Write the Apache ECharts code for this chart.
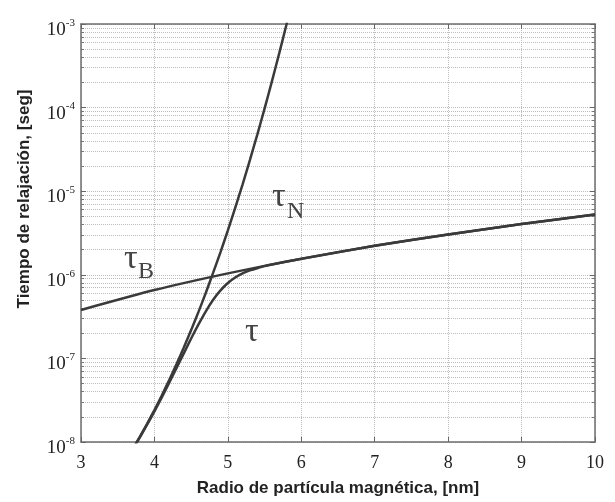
<!DOCTYPE html>
<html>
<head>
<meta charset="utf-8">
<script src="https://cdn.jsdelivr.net/npm/echarts@6/dist/echarts.min.js"></script>
<style>
  html, body { margin: 0; background: #fff; }
  #chart { width: 615px; height: 502px; }
</style>
</head>
<body>
<div id="chart"></div>
<script>
// radio de particula [nm] y tiempos [seg]
const radioB = [3, 4, 5, 6, 7, 8, 9, 10]
const tauB = [3.8e-7, 6.57e-7, 1.04e-6, 1.56e-6, 2.22e-6, 3.04e-6, 4.05e-6, 5.25e-6]

const radioN = [3.7, 3.8, 3.9, 4.0, 4.1, 4.2, 4.3, 4.4, 4.5, 4.6, 4.7, 4.8,
  4.9, 5.0, 5.1, 5.2, 5.3, 5.4, 5.5, 5.6, 5.7, 5.8, 5.9]
const tauN = [8.17e-9, 1.15e-8, 1.65e-8, 2.41e-8, 3.6e-8, 5.47e-8, 8.49e-8, 1.35e-7,
  2.18e-7, 3.6e-7, 6.1e-7, 1.06e-6, 1.87e-6, 3.4e-6, 6.32e-6, 1.2e-5, 2.36e-5,
  4.72e-5, 9.73e-5, 2.06e-4, 4.48e-4, 1.0e-3, 2.3e-3]

const radioT = [3.7, 3.8, 3.9, 4.0, 4.1, 4.2, 4.3, 4.4, 4.5, 4.6, 4.7, 4.8,
  4.9, 5.0, 5.1, 5.2, 5.3, 5.4, 5.5, 5.6, 5.8, 6, 7, 8, 9, 10]
const tau = [8.05e-9, 1.13e-8, 1.61e-8, 2.32e-8, 3.42e-8, 5.09e-8, 7.64e-8, 1.15e-7,
  1.73e-7, 2.55e-7, 3.66e-7, 5.03e-7, 6.51e-7, 7.98e-7, 9.28e-7, 1.04e-6, 1.13e-6,
  1.2e-6, 1.27e-6, 1.33e-6, 1.44e-6, 1.55e-6, 2.22e-6, 3.04e-6, 4.05e-6, 5.25e-6]

const xName = 'Radio de partícula magnética, [nm]'
const yName = 'Tiempo de relajación, [seg]'

const serif = 'Liberation Serif'
const sans = 'Liberation Sans'
const lineColor = '#3a3a3a'
const frame = { show: true, lineStyle: { color: '#6e6e6e', width: 1.5 } }
const grid = { type: 'dotted', color: '#bdbdbd', width: 1 }

function pairs (xs, ys) {
  return xs.map((x, i) => [x, ys[i]])
}

function curve (name, xs, ys) {
  return {
    name: name,
    type: 'line',
    data: pairs(xs, ys),
    showSymbol: false,
    smooth: 0.2,
    clip: true,
    lineStyle: { color: lineColor, width: 2.5 },
    z: 5
  }
}

function yAxisBase (pos) {
  return {
    type: 'log',
    logBase: 10,
    min: 1e-8,
    max: 1e-3,
    position: pos,
    axisLine: frame,
    axisTick: { show: true, inside: true, length: 5, lineStyle: { color: '#666' } },
    minorTick: { show: true, splitNumber: 9, length: 3, lineStyle: { color: '#777' } },
    axisLabel: { show: false },
    splitLine: { show: false },
    minorSplitLine: { show: false }
  }
}

function xAxisBase (pos) {
  return {
    type: 'value',
    min: 3,
    max: 10,
    interval: 1,
    position: pos,
    axisLine: frame,
    axisTick: { show: true, inside: true, length: 5, lineStyle: { color: '#666' } },
    axisLabel: { show: false },
    splitLine: { show: false }
  }
}

const yLeft = yAxisBase('left')
yLeft.axisLabel = {
  show: true,
  margin: 6,
  padding: [12, 0, 0, 0],
  formatter: v => '{a|10}{b|' + Math.round(Math.log10(v)) + '}',
  rich: {
    a: { fontFamily: serif, fontSize: 19, color: '#222' },
    b: { fontFamily: serif, fontSize: 11, color: '#222', padding: [0, 0, 14, 0] }
  }
}
yLeft.splitLine = { show: true, lineStyle: grid }
yLeft.minorSplitLine = { show: true, lineStyle: grid }
yLeft.name = yName
yLeft.nameLocation = 'middle'
yLeft.nameGap = 48
// el titulo del eje y esta algo por encima del centro
yLeft.nameTextStyle = { fontFamily: sans, fontWeight: 'bold', fontSize: 17, color: '#222', padding: [0, 0, 0, 68] }

const xBottom = xAxisBase('bottom')
xBottom.axisLabel = { show: true, margin: 12, fontFamily: serif, fontSize: 18, color: '#222' }
xBottom.splitLine = { show: true, lineStyle: grid }
xBottom.name = xName
xBottom.nameLocation = 'middle'
xBottom.nameGap = 38
xBottom.nameTextStyle = { fontFamily: sans, fontWeight: 'bold', fontSize: 17, color: '#222' }

const yRight = yAxisBase('right')
const xTop = xAxisBase('top')

function tag (x, y, text, size) {
  return {
    type: 'text',
    x: x,
    y: y,
    style: { text: text, fontFamily: serif, fontSize: size, fill: '#444' },
    z: 10
  }
}

const chart = echarts.init(document.getElementById('chart'), null, { renderer: 'canvas' })
chart.setOption({
  animation: false,
  backgroundColor: '#fff',
  grid: { left: 81, right: 20, top: 24, bottom: 57 },
  xAxis: [xBottom, xTop],
  yAxis: [yLeft, yRight],
  series: [
    curve('tauN', radioN, tauN),
    curve('tauB', radioB, tauB),
    curve('tau', radioT, tau)
  ],
  graphic: [
    tag(272, 180, 'τ', 34),
    tag(287, 200, 'N', 24),
    tag(124, 242, 'τ', 34),
    tag(138, 260, 'B', 24),
    tag(245, 315, 'τ', 34)
  ]
})
</script>
</body>
</html>
